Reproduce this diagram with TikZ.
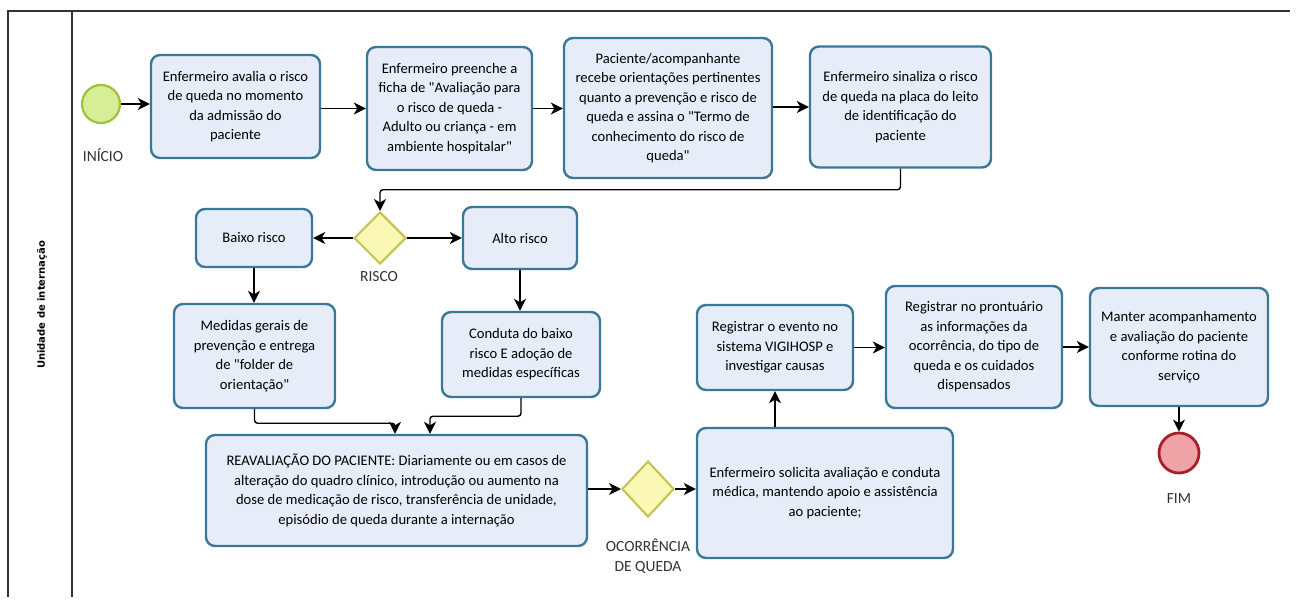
\documentclass[tikz,border=0pt]{standalone}
\usepackage{fontspec}
\setmainfont{Carlito}
\newfontfamily\lanefont{DejaVu Sans}
\usetikzlibrary{arrows.meta,shapes.geometric}

\definecolor{taskfill}{HTML}{E6EDF8}
\definecolor{taskline}{HTML}{3A789A}
\definecolor{gatefill}{HTML}{FBF7B4}
\definecolor{gateline}{HTML}{C2C24E}
\definecolor{startfill}{HTML}{D7EE96}
\definecolor{startline}{HTML}{9CC23A}
\definecolor{endfill}{HTML}{EFA3A6}
\definecolor{endline}{HTML}{AA1E2A}

\begin{document}
\begin{tikzpicture}[x=1pt, y=-1pt,
    task/.style={rectangle, rounded corners=9pt, draw=taskline, fill=taskfill, line width=2.4pt, align=center, inner sep=2pt, font=\fontsize{14.6}{19.5}\selectfont},
    gate/.style={diamond, draw=gateline, fill=gatefill, line width=2pt, minimum width=52pt, minimum height=52pt, inner sep=0pt},
    flow/.style={draw=black, line width=1.4pt, rounded corners=3pt, -{Stealth[length=12pt,width=12pt,inset=3.5pt]}},
    lbl/.style={font=\fontsize{15.5}{20}\selectfont, text=black!80, align=center}]

    \useasboundingbox (0,0) rectangle (1296,605);
    \fill[white] (0,0) rectangle (1296,605);

    % pool and lane
    \draw[black!80, line width=1.3pt] (8,597) -- (8,11) -- (1290,11);
    \draw[black!80, line width=1.3pt] (72,11) -- (72,597);
    \node[rotate=90, font=\lanefont\bfseries\fontsize{10}{12}\selectfont] (lane) at (42,305) {Unidade de internação};

    % events
    \node[circle, draw=startline, fill=startfill, line width=2.2pt, minimum size=38pt, inner sep=0pt] (inicio) at (101,104) {};
    \node[lbl] (inicioL) at (103,155) {INÍCIO};
    \node[circle, draw=endline, fill=endfill, line width=2.8pt, minimum size=40pt, inner sep=0pt] (fim) at (1179,453) {};
    \node[lbl] (fimL) at (1179,499) {FIM};

    % first row
    \node[task, minimum width=169pt, minimum height=103pt] (avalia) at (235.5,106.5) {Enfermeiro avalia o risco\\de queda no momento\\da admissão do\\paciente};
    \node[task, minimum width=165pt, minimum height=123pt] (ficha) at (449.5,108.5) {Enfermeiro preenche a\\ficha de \textquotedbl Avaliação para\\o risco de queda -\\Adulto ou criança - em\\ambiente hospitalar\textquotedbl};
    \node[task, minimum width=208pt, minimum height=140pt] (orienta) at (668,108) {Paciente/acompanhante\\recebe orientações pertinentes\\quanto a prevenção e risco de\\queda e assina o \textquotedbl Termo de\\conhecimento do risco de\\queda\textquotedbl};
    \node[task, minimum width=181pt, minimum height=121pt] (sinaliza) at (900.5,107) {Enfermeiro sinaliza o risco\\de queda na placa do leito\\de identificação do\\paciente};

    % risk decision
    \node[gate] (risco) at (380,238) {};
    \node[lbl] (riscoL) at (379,277) {RISCO};
    \node[task, minimum width=116pt, minimum height=58pt] (baixo) at (254,238) {Baixo risco};
    \node[task, minimum width=114pt, minimum height=62pt] (alto) at (520,238) {Alto risco};
    \node[task, minimum width=161pt, minimum height=104pt] (medidas) at (254.5,356) {Medidas gerais de\\prevenção e entrega\\de \textquotedbl folder de\\orientação\textquotedbl};
    \node[task, minimum width=158pt, minimum height=85pt] (conduta) at (521,354.5) {Conduta do baixo\\risco E adoção de\\medidas específicas};

    % reassessment and fall
    \node[task, minimum width=381pt, minimum height=111pt] (reav) at (396.5,490.5) {REAVALIAÇÃO DO PACIENTE: Diariamente ou em casos de\\alteração do quadro clínico, introdução ou aumento na\\dose de medicação de risco, transferência de unidade,\\episódio de queda durante a internação};
    \node[gate, minimum height=56pt] (queda) at (648,489) {};
    \node[lbl] (quedaL) at (648,556) {OCORRÊNCIA\\DE QUEDA};
    \node[task, minimum width=256pt, minimum height=130pt] (solicita) at (825,493) {Enfermeiro solicita avaliação e conduta\\médica, mantendo apoio e assistência\\ao paciente;};
    \node[task, minimum width=156pt, minimum height=85pt] (registra) at (775,347.5) {Registrar o evento no\\sistema VIGIHOSP e\\investigar causas};
    \node[task, minimum width=176pt, minimum height=122pt] (prontuario) at (974,347) {Registrar no prontuário\\as informações da\\ocorrência, do tipo de\\queda e os cuidados\\dispensados};
    \node[task, minimum width=178pt, minimum height=118pt] (manter) at (1179,347) {Manter acompanhamento\\e avaliação do paciente\\conforme rotina do\\serviço};

    % connectors
    \draw[flow] (inicio.east) -- (inicio.east -| avalia.west);
    \draw[flow] (avalia.east |- ficha.west) -- (ficha.west);
    \draw[flow] (ficha.east) -- (ficha.east -| orienta.west);
    \draw[flow] (orienta.east |- sinaliza.west) -- (sinaliza.west);
    \draw[flow] (sinaliza.south) -- ++(0,21) -| (risco.north);
    \draw[flow] (risco.west) -- (baixo.east);
    \draw[flow] (risco.east) -- (alto.west);
    \draw[flow] (baixo.south) -- (baixo.south |- medidas.north);
    \draw[flow] (alto.south) -- (alto.south |- conduta.north);
    \draw[flow] (medidas.south) -- ++(0,14) -| ([xshift=-1.5pt]reav.north);
    \draw[flow] (conduta.south) -- ++(0,18) -| ([xshift=33.5pt]reav.north);
    \draw[flow] (reav.east |- queda.west) -- (queda.west);
    \draw[flow] (queda.east) -- (queda.east -| solicita.west);
    \draw[flow] (registra.south |- solicita.north) -- (registra.south);
    \draw[flow] (registra.east) -- (registra.east -| prontuario.west);
    \draw[flow] (prontuario.east) -- (prontuario.east -| manter.west);
    \draw[flow] (manter.south) -- (fim.north);
\end{tikzpicture}
\end{document}
